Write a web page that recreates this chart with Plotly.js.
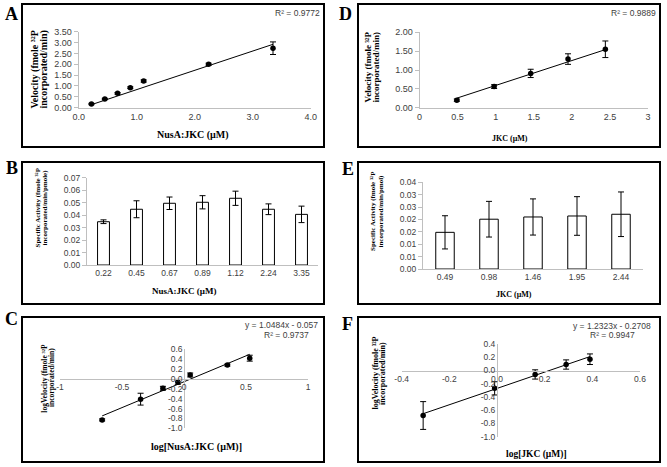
<!DOCTYPE html>
<html><head><meta charset="utf-8">
<script src="https://cdn.plot.ly/plotly-3.0.1.min.js"></script>
<style>body{margin:0;padding:0;background:#fff}#chart{width:667px;height:467px}</style>
</head><body><div id="chart"></div>
<script>
// ---------- DATA ----------
// Panel A: velocity vs NusA:JKC
const concA = [0.22, 0.45, 0.67, 0.89, 1.12, 2.24, 3.35];
const velA = [0.17, 0.40, 0.66, 0.92, 1.23, 2.00, 2.74];
const velAErr = [0.03, 0.03, 0.04, 0.04, 0.05, 0.05, 0.29];
const trendA = [0.888, -0.055]; // slope, intercept
const r2A = "R² = 0.9772";
// Panel B: specific activity vs NusA:JKC
const catsB = ["0.22", "0.45", "0.67", "0.89", "1.12", "2.24", "3.35"];
const actB = [0.0347, 0.0447, 0.0495, 0.0503, 0.0535, 0.0447, 0.0406];
const actBErr = [0.0015, 0.0068, 0.0050, 0.0053, 0.0057, 0.0043, 0.0066];
// Panel C: log-log NusA:JKC
const logConcC = [-0.66, -0.35, -0.17, -0.05, 0.05, 0.35, 0.53];
const logVelC = [-0.83, -0.41, -0.19, -0.06, 0.08, 0.28, 0.42];
const logVelCErr = [0.02, 0.12, 0.04, 0.05, 0.04, 0.02, 0.06];
const trendC = [1.0484, -0.057];
const eqC = "y = 1.0484x - 0.057", r2C = "R² = 0.9737";
// Panel D: velocity vs JKC
const concD = [0.49, 0.98, 1.46, 1.95, 2.44];
const velD = [0.20, 0.56, 0.91, 1.29, 1.55];
const velDErr = [0.03, 0.05, 0.11, 0.14, 0.22];
const trendD = [0.66, -0.07];
const r2D = "R² = 0.9889";
// Panel E: specific activity vs JKC
const catsE = ["0.49", "0.98", "1.46", "1.95", "2.44"];
const actE = [0.0148, 0.0201, 0.0210, 0.0214, 0.0221];
const actEErr = [0.0067, 0.0072, 0.0073, 0.0078, 0.0090];
const tickValsE = [0, 0.005, 0.01, 0.015, 0.02, 0.025, 0.03, 0.035];
const tickTextE = ["0.00", "0.01", "0.01", "0.02", "0.02", "0.03", "0.03", "0.04"];
// Panel F: log-log JKC
const logConcF = [-0.31, -0.01, 0.16, 0.29, 0.39];
const logVelF = [-0.68, -0.27, -0.06, 0.09, 0.17];
const logVelFErr = [0.21, 0.10, 0.07, 0.07, 0.08];
const trendF = [1.2323, -0.2708];
const eqF = "y = 1.2323x - 0.2708", r2F = "R² = 0.9947";
// tick labels for log panels
const tickValsCx = [-1, -0.5, 0, 0.5, 1], tickTextCx = ["-1", "-0.5", "0", "0.5", "1"];
const tickValsCy = [0.6, 0.4, 0.2, 0, -0.2, -0.4, -0.6, -0.8, -1.0];
const tickTextCy = ["0.6", "0.4", "0.2", "0.0", "-0.2", "-0.4", "-0.6", "-0.8", "-1.0"];
const tickValsFx = [-0.4, -0.2, 0, 0.2, 0.4, 0.6], tickTextFx = ["-0.4", "-0.2", "0.0", "0.2", "0.4", "0.6"];
const tickValsFy = [0.4, 0.2, 0, -0.2, -0.4, -0.6, -0.8, -1.0];
const tickTextFy = ["0.4", "0.2", "0.0", "-0.2", "-0.4", "-0.6", "-0.8", "-1.0"];

// ---------- LAYOUT HELPERS ----------
const W = 667, H = 467;
const px = x => x / W, py = y => 1 - y / H;
const AX = '#bfbfbf', TXT = '#404040';
const SANS = 'Liberation Sans', SERIF = 'Liberation Serif';

function baseAxis(extra) {
  return Object.assign({
    showgrid: false, zeroline: false, showline: true, linecolor: AX, linewidth: 1,
    ticks: '', tickfont: {family: SANS, size: 9, color: TXT}, fixedrange: true
  }, extra);
}
function trendLine(xs, t, xa, ya) {
  const x0 = xs[0], x1 = xs[xs.length - 1];
  return {x: [x0, x1], y: [t[0] * x0 + t[1], t[0] * x1 + t[1]], mode: 'lines',
    line: {color: 'black', width: 1}, xaxis: xa, yaxis: ya, hoverinfo: 'skip'};
}
function pts(xs, ys, es, xa, ya) {
  return {x: xs, y: ys, mode: 'markers', marker: {color: 'black', size: 5.5},
    error_y: {type: 'data', array: es, visible: true, color: 'black', thickness: 1, width: 3},
    xaxis: xa, yaxis: ya, cliponaxis: false};
}
function bars(cats, vals, es, w, xa, ya) {
  return {type: 'bar', x: cats, y: vals, width: w,
    marker: {color: 'white', line: {color: 'black', width: 1}},
    error_y: {type: 'data', array: es, visible: true, color: 'black', thickness: 1, width: 3},
    xaxis: xa, yaxis: ya};
}

const traces = [
  pts(concA, velA, velAErr, 'x', 'y'), trendLine(concA, trendA, 'x', 'y'),
  pts(concD, velD, velDErr, 'x2', 'y2'), trendLine(concD, trendD, 'x2', 'y2'),
  bars(catsB, actB, actBErr, 0.36, 'x3', 'y3'),
  bars(catsE, actE, actEErr, 0.42, 'x4', 'y4'),
  pts(logConcC, logVelC, logVelCErr, 'x5', 'y5'), trendLine(logConcC, trendC, 'x5', 'y5'),
  pts(logConcF, logVelF, logVelFErr, 'x6', 'y6'), trendLine(logConcF, trendF, 'x6', 'y6')
];

function ann(x, y, text, size, opts) {
  return Object.assign({xref: 'paper', yref: 'paper', x: px(x), y: py(y), text: text,
    showarrow: false, xanchor: 'center', yanchor: 'middle',
    font: {family: SANS, size: size, color: TXT}}, opts || {});
}
function sAnn(x, y, text, size, angle) {
  return ann(x, y, '<b>' + text + '</b>', size, {textangle: angle || 0,
    font: {family: SERIF, size: size, color: 'black'}});
}

const annotations = [
  sAnn(12, 14, 'A', 18), sAnn(345, 14, 'D', 18), sAnn(12, 168, 'B', 18),
  sAnn(348, 169, 'E', 18), sAnn(12, 319, 'C', 18), sAnn(347.5, 324, 'F', 18),
  ann(297, 13, r2A, 8.5), ann(633, 13, r2D, 8.5),
  ann(281, 325, eqC, 8.5), ann(286, 335, r2C, 8.5),
  ann(611.5, 326, eqF, 8.5), ann(612.5, 335, r2F, 8.5),
  // x titles
  sAnn(193, 135, 'NusA:JKC (µM)', 10), sAnn(510, 138, 'JKC (µM)', 8),
  sAnn(184, 291, 'NusA:JKC (µM)', 9), sAnn(514, 294, 'JKC (µM)', 8),
  sAnn(196, 447, 'log[NusA:JKC (µM)]', 10), sAnn(536.5, 454, 'log[JKC (µM)]', 9.5),
  // y titles (two lines each)
  sAnn(34.5, 70, 'Velocity (fmole ³²P', 10, -90), sAnn(43.5, 70, 'incorporated/min)', 10, -90),
  sAnn(367.5, 67, 'Velocity (fmole ³²P', 9, -90), sAnn(375.5, 67, 'incorporated/min)', 9, -90),
  sAnn(37.5, 208, 'Specific Activity (fmole ³²P', 7, -90), sAnn(44.5, 208, 'incorporated/min/pmole)', 7, -90),
  sAnn(373, 211, 'Specific Activity (fmole ³²P', 7, -90), sAnn(380.5, 211, 'incorporated/min/pmol)', 7, -90),
  sAnn(43.7, 378, 'logVelocity (fmole ³²P', 7.5, -90), sAnn(51, 378, 'incorporated/min)', 7.5, -90),
  sAnn(374.5, 373, 'logVelocity (fmole ³²P', 8, -90), sAnn(382, 374, 'incorporated/min)', 8, -90)
];

function box(x0, y0, x1, y1) {
  return {type: 'rect', xref: 'paper', yref: 'paper', x0: px(x0), x1: px(x1), y0: py(y0), y1: py(y1),
    line: {color: 'black', width: 2}, fillcolor: 'rgba(0,0,0,0)'};
}

const layout = {
  width: W, height: H, margin: {l: 0, r: 0, t: 0, b: 0},
  paper_bgcolor: 'white', plot_bgcolor: 'rgba(0,0,0,0)', showlegend: false,
  xaxis: baseAxis({domain: [px(78.7), px(310.7)], range: [0, 4], dtick: 1, tickformat: '.1f', anchor: 'y'}),
  yaxis: baseAxis({domain: [py(107.7), py(31.7)], range: [0, 3.5], dtick: 0.5, tickformat: '.2f', anchor: 'x',
    ticks: 'outside', ticklen: 4, tickcolor: AX}),
  xaxis2: baseAxis({domain: [px(419.5), px(648)], range: [0, 3], dtick: 0.5, anchor: 'y2'}),
  yaxis2: baseAxis({domain: [py(107.7), py(32.3)], range: [0, 2], dtick: 0.5, tickformat: '.2f', anchor: 'x2',
    ticks: 'outside', ticklen: 4, tickcolor: AX}),
  xaxis3: baseAxis({domain: [px(87), px(318)], type: 'category', anchor: 'y3', tickfont: {family: SANS, size: 8.5, color: TXT}}),
  yaxis3: baseAxis({domain: [py(265), py(177.7)], range: [0, 0.07], dtick: 0.01, tickformat: '.2f', anchor: 'x3',
    ticks: 'outside', ticklen: 4, tickcolor: AX, tickfont: {family: SANS, size: 8.5, color: TXT}}),
  xaxis4: baseAxis({domain: [px(423), px(643)], type: 'category', anchor: 'y4', tickfont: {family: SANS, size: 8.5, color: TXT}}),
  yaxis4: baseAxis({domain: [py(269), py(182.3)], range: [0, 0.035], tickvals: tickValsE, ticktext: tickTextE, anchor: 'x4',
    ticks: 'outside', ticklen: 4, tickcolor: AX, tickfont: {family: SANS, size: 8.5, color: TXT}}),
  xaxis5: baseAxis({domain: [px(60), px(308)], range: [-1, 1], tickvals: tickValsCx, ticktext: tickTextCx,
    anchor: 'free', position: py(378.9), tickfont: {family: SANS, size: 8.5, color: TXT}}),
  yaxis5: baseAxis({domain: [py(428.3), py(349.3)], range: [-1, 0.6], tickvals: tickValsCy, ticktext: tickTextCy,
    anchor: 'free', position: px(184.3), tickfont: {family: SANS, size: 8.5, color: TXT}}),
  xaxis6: baseAxis({domain: [px(401.7), px(640)], range: [-0.4, 0.6], tickvals: tickValsFx, ticktext: tickTextFx,
    anchor: 'free', position: py(370.5), tickfont: {family: SANS, size: 8.5, color: TXT}}),
  yaxis6: baseAxis({domain: [py(436.7), py(344)], range: [-1, 0.4], tickvals: tickValsFy, ticktext: tickTextFy,
    anchor: 'free', position: px(497), tickfont: {family: SANS, size: 8.5, color: TXT}}),
  shapes: [box(22, 4, 324, 147), box(358, 4, 660, 147), box(22, 162, 324, 304),
    box(358, 162, 660, 304), box(22, 317, 324, 462), box(358, 317, 660, 462)],
  annotations: annotations
};

Plotly.newPlot('chart', traces, layout, {staticPlot: true, displayModeBar: false});
</script></body></html>
